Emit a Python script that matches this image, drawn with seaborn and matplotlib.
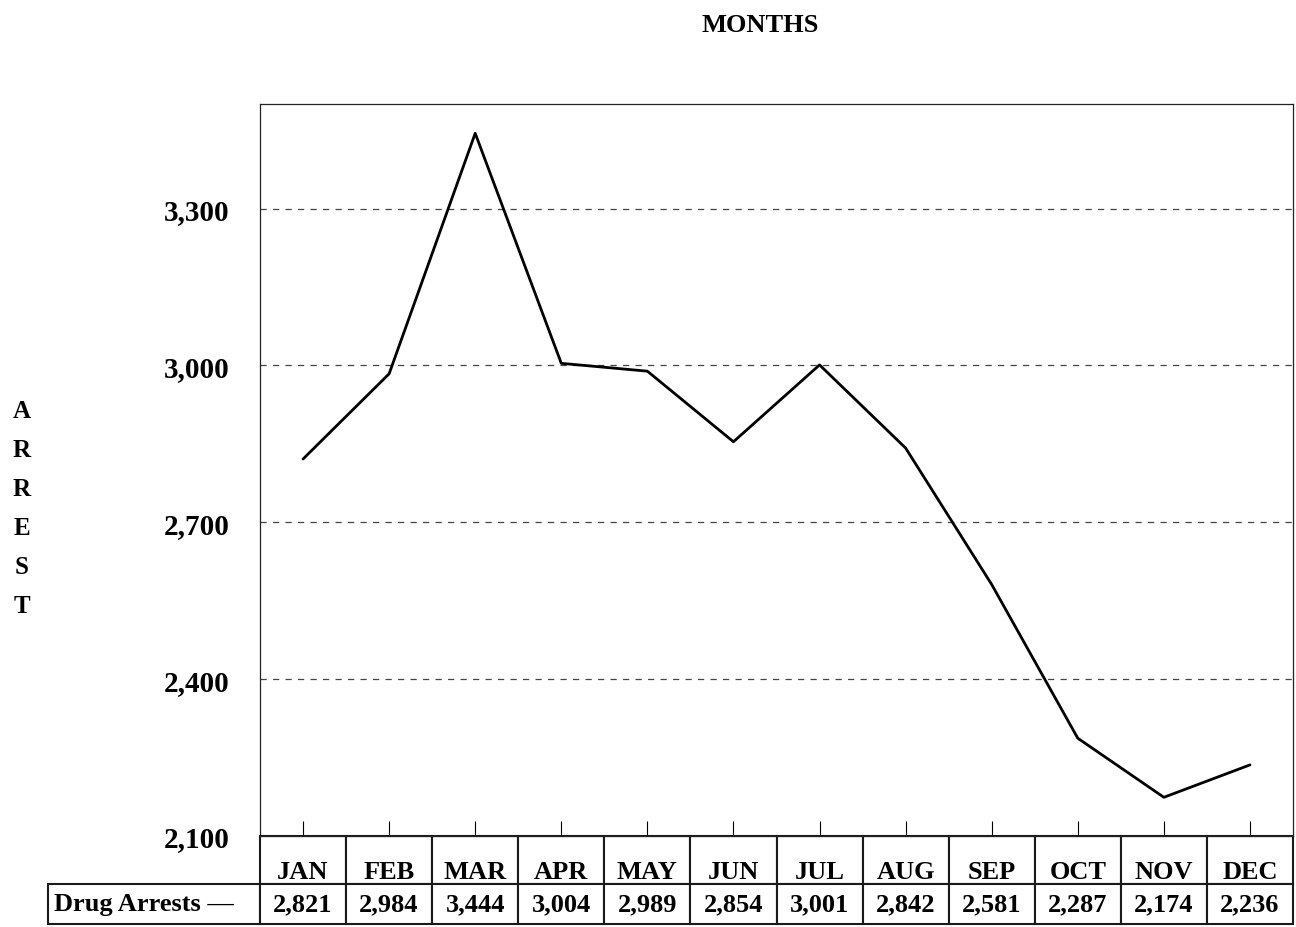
import numpy as np
import pandas as pd
import seaborn as sns
import matplotlib.pyplot as plt
from matplotlib.table import Table
from matplotlib.ticker import FuncFormatter

# data
months = ['JAN', 'FEB', 'MAR', 'APR', 'MAY', 'JUN', 'JUL', 'AUG', 'SEP', 'OCT', 'NOV', 'DEC']
drug_arrests = [2821, 2984, 3444, 3004, 2989, 2854, 3001, 2842, 2581, 2287, 2174, 2236]
series_name = 'Drug Arrests'
y_ticks = [2100, 2400, 2700, 3000, 3300]

df = pd.DataFrame({'pos': np.arange(len(months)), 'arrests': drug_arrests})

sns.set_theme(style='white')
plt.rcParams['font.family'] = ['Liberation Serif', 'DejaVu Serif']
plt.rcParams['font.weight'] = 'bold'
plt.rcParams['text.color'] = 'black'
plt.rcParams['ytick.color'] = 'black'

fig = plt.figure(figsize=(12.96, 9.28), dpi=100)
ax = fig.add_axes([260 / 1296, 91 / 928, 1033 / 1296, 732 / 928])

sns.lineplot(data=df, x='pos', y='arrests', color='black', linewidth=2, ax=ax)

ax.set_xlim(-0.5, len(months) - 0.5)
ax.set_ylim(2100, 3500)
ax.set_yticks(y_ticks)
ax.yaxis.set_major_formatter(FuncFormatter(lambda v, p: f'{int(v):,}'))
ax.set_xticks(df['pos'])
ax.set_xticklabels([])
ax.tick_params(axis='x', direction='in', length=11, width=0.8, color='black', bottom=True)
ax.tick_params(axis='y', length=0, pad=22, labelsize=21, labelcolor='black')
for lbl in ax.get_yticklabels():
    lbl.set_fontweight('bold')
ax.set_xlabel('')
ax.set_ylabel('')

for y in y_ticks:
    ax.axhline(y, color='#444444', linewidth=0.9, linestyle=(0, (5, 5)), zorder=0)

for s in ax.spines.values():
    s.set_color('#222222')
    s.set_linewidth(0.9)

# data table under the plot
lab_w = 212 / 1033
col_w = 1 / len(months)
h_head = 48 / 732
h_row = 40 / 732
tbl = Table(ax, bbox=[0, -(h_head + h_row), 1, h_head + h_row])
for j, m in enumerate(months):
    c = tbl.add_cell(0, j, col_w, h_head, text=m, loc='center')
    c.get_text().set_verticalalignment('top')
    c.set_linewidth(1.5)
    c = tbl.add_cell(1, j, col_w, h_row, text=f'{drug_arrests[j]:,}', loc='center')
    c.set_linewidth(1.5)
c = tbl.add_cell(1, -1, lab_w, h_row, text=series_name + ' \u2014', loc='left')
c.set_linewidth(1.5)
c.PAD = 0.03
tbl.auto_set_font_size(False)
tbl.set_fontsize(19)
for cell in tbl.get_celld().values():
    cell.get_text().set_fontweight('bold')
    cell.get_text().set_color('black')
ax.add_table(tbl)

fig.text(760 / 1296, 1 - 25 / 928, 'MONTHS', ha='center', va='center',
         fontsize=19, fontweight='bold')
fig.text(22 / 1296, 1 - 509 / 928, '\n'.join('ARREST'), ha='center', va='center',
         fontsize=18, fontweight='bold', linespacing=1.88)

fig.savefig('out.png', dpi=100)
